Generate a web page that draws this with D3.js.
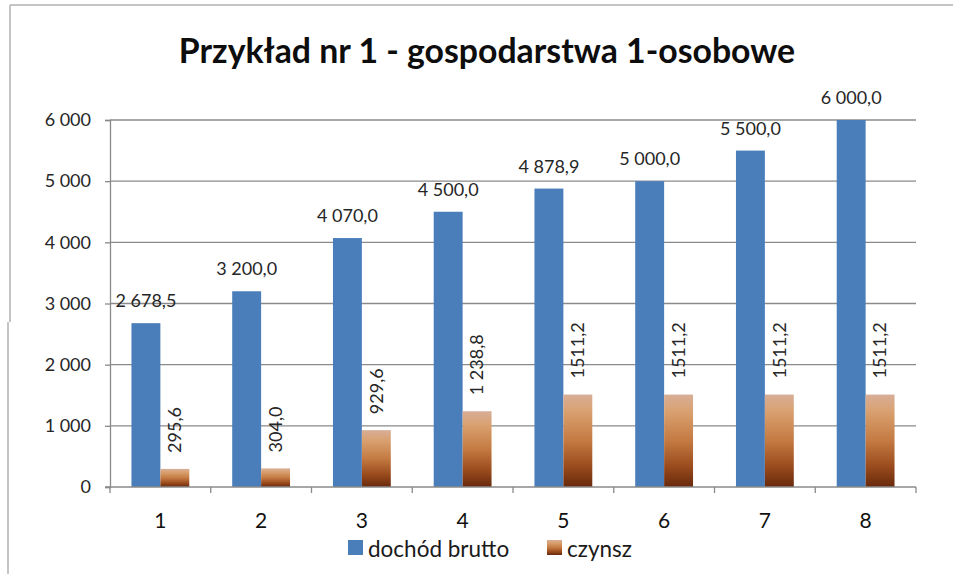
<!DOCTYPE html>
<html><head><meta charset="utf-8">
<script src="https://cdnjs.cloudflare.com/ajax/libs/d3/7.8.5/d3.min.js"></script>
<style>
html,body{margin:0;padding:0;background:#fff;}
svg{display:block;font-family:Lato,"Open Sans",sans-serif;}
</style></head>
<body><svg id="chart" width="953" height="574"></svg>
<script>
const title = "Przykład nr 1 - gospodarstwa 1-osobowe";
const categories = ["1","2","3","4","5","6","7","8"];
const seriesNames = ["dochód brutto","czynsz"];
const dochod = [2678.5, 3200.0, 4070.0, 4500.0, 4878.9, 5000.0, 5500.0, 6000.0];
const czynsz = [295.6, 304.0, 929.6, 1238.8, 1511.2, 1511.2, 1511.2, 1511.2];
const czynszLabels = ["295,6","304,0","929,6","1 238,8","1511,2","1511,2","1511,2","1511,2"];
const yTicks = [0,1000,2000,3000,4000,5000,6000];

(function(){
const svg = d3.select("#chart");
const W = 953, H = 574;
const pLeft = 110, pRight = 916, pTop = 120, pBottom = 487;

// frame
svg.append("line").attr("x1",10).attr("x2",W).attr("y1",5).attr("y2",5).attr("stroke","#c4c4c4").attr("stroke-width",2);
svg.append("line").attr("x1",10).attr("x2",10).attr("y1",5).attr("y2",322).attr("stroke","#c4c4c4").attr("stroke-width",2);
svg.append("line").attr("x1",8).attr("x2",8).attr("y1",322).attr("y2",H).attr("stroke","#c4c4c4").attr("stroke-width",2);

const defs = svg.append("defs");
const grad = defs.append("linearGradient").attr("id","orangeGrad").attr("x1",0).attr("x2",0).attr("y1",0).attr("y2",1);
[[0,"#d8ae98"],[0.18,"#d9a170"],[0.5,"#c47a42"],[0.78,"#9a4b1d"],[1,"#67290c"]].forEach(s=>
  grad.append("stop").attr("offset",s[0]).attr("stop-color",s[1]));

const y = d3.scaleLinear().domain([0,6000]).range([pBottom, pTop]);
const x = d3.scaleBand().domain(categories).range([pLeft, pRight]).paddingInner(0).paddingOuter(0);
const x1 = d3.scaleBand().domain(seriesNames).range([x.bandwidth()*0.213, x.bandwidth()*0.787]).padding(0);
const fmt = v => {
  const s = v.toFixed(1).replace(".", ",");
  const [i,d] = s.split(",");
  return i.replace(/\B(?=(\d{3})+(?!\d))/g," ") + "," + d;
};
const yFmt = v => String(v).replace(/\B(?=(\d{3})+(?!\d))/g," ");

// gridlines
svg.append("g").selectAll("line").data(yTicks.filter(t=>t>0)).join("line")
  .attr("x1",pLeft).attr("x2",pRight).attr("y1",d=>y(d)).attr("y2",d=>y(d))
  .attr("stroke","#8a8a8a").attr("stroke-width",1.3);

// y axis
const yAxis = d3.axisLeft(y).tickValues(yTicks).tickSize(5).tickPadding(14).tickFormat(yFmt);
const gy = svg.append("g").attr("transform",`translate(${pLeft},0)`).call(yAxis);
gy.select(".domain").attr("stroke","#8a8a8a").attr("stroke-width",1.3);
gy.selectAll(".tick line").attr("stroke","#8a8a8a").attr("stroke-width",1.3);
gy.selectAll(".tick text").attr("font-size",18).attr("fill","#262626").attr("font-family","Lato");

// bars
const groups = svg.append("g").selectAll("g").data(categories).join("g")
  .attr("transform",d=>`translate(${x(d)},0)`);
groups.append("rect")
  .attr("x",x1("dochód brutto")).attr("width",x1.bandwidth())
  .attr("y",(d,i)=>y(dochod[i])).attr("height",(d,i)=>y(0)-y(dochod[i]))
  .attr("fill","#4a7ebb");
groups.append("rect")
  .attr("x",x1("czynsz")).attr("width",x1.bandwidth())
  .attr("y",(d,i)=>y(czynsz[i])).attr("height",(d,i)=>y(0)-y(czynsz[i]))
  .attr("fill","url(#orangeGrad)");

// x axis
const xAxisLine = svg.append("g");
xAxisLine.append("line").attr("x1",pLeft-5).attr("x2",pRight).attr("y1",pBottom).attr("y2",pBottom)
  .attr("stroke","#8a8a8a").attr("stroke-width",1.3);
const boundaries = categories.map(c=>x(c)).concat([x(categories[categories.length-1])+x.bandwidth()]);
xAxisLine.selectAll("line.t").data(boundaries).join("line").attr("class","t")
  .attr("x1",d=>d).attr("x2",d=>d).attr("y1",pBottom).attr("y2",pBottom+6)
  .attr("stroke","#8a8a8a").attr("stroke-width",1.3);
svg.append("g").selectAll("text").data(categories).join("text")
  .attr("x",d=>x(d)+x.bandwidth()/2).attr("y",528)
  .attr("text-anchor","middle").attr("font-size",21).attr("fill","#111")
  .text(d=>d);

// data labels
groups.append("text")
  .attr("x",x1("dochód brutto")+x1.bandwidth()/2)
  .attr("y",(d,i)=>y(dochod[i])-16)
  .attr("text-anchor","middle").attr("font-size",18).attr("fill","#262626")
  .text((d,i)=>fmt(dochod[i]));
groups.append("text")
  .attr("transform",(d,i)=>`translate(${x1("czynsz")+x1.bandwidth()/2},${y(czynsz[i])-16}) rotate(-90)`)
  .attr("dy","0.35em")
  .attr("text-anchor","start").attr("font-size",18).attr("fill","#262626")
  .text((d,i)=>czynszLabels[i]);

// title
svg.append("text").attr("x",487).attr("y",63).attr("text-anchor","middle")
  .attr("font-size",33.8).attr("font-weight","bold").attr("fill","#0d0d0d")
  .text(title);

// legend
const colors = ["#4a7ebb","url(#orangeGrad)"];
const legX = [348, 547];
const leg = svg.append("g").selectAll("g").data(seriesNames).join("g")
  .attr("transform",(d,i)=>`translate(${legX[i]},0)`);
leg.append("rect").attr("x",0).attr("y",540).attr("width",15).attr("height",15).attr("fill",(d,i)=>colors[i]);
leg.append("text").attr("x",20).attr("y",557).attr("font-size",22.5).attr("fill","#1a1a1a").text(d=>d);
})();
</script>
</body></html>
